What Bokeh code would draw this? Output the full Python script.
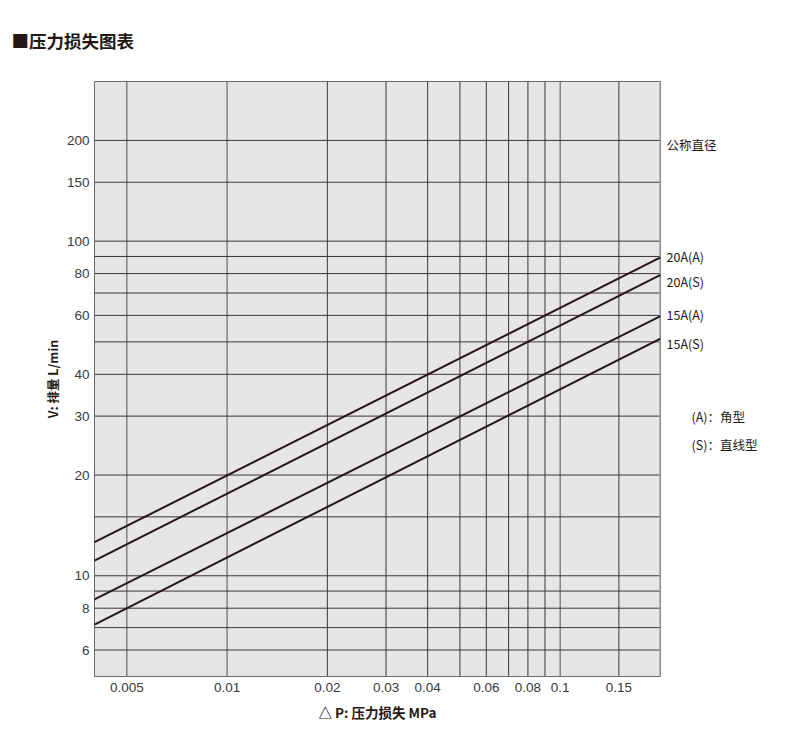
from bokeh.plotting import figure
from bokeh.models import Span, FixedTicker, CustomJSTickFormatter, LogAxis, Title
from bokeh.embed import file_html
from bokeh.resources import INLINE

# pressure loss (MPa) at the two ends of each line
dp = [0.004, 0.2]

# flow (L/min) at those two ends
flow_20A_A = [12.6, 89.5]
flow_20A_S = [11.1, 79.3]
flow_15A_A = [8.5, 59.7]
flow_15A_S = [7.15, 51.1]

series_names = ["20A(A)", "20A(S)", "15A(A)", "15A(S)"]

x_ticks = [0.005, 0.01, 0.02, 0.03, 0.04, 0.06, 0.08, 0.1, 0.15]
x_grid = [0.005, 0.01, 0.02, 0.03, 0.04, 0.05, 0.06, 0.07, 0.08, 0.09, 0.1, 0.15]
y_ticks = [6, 8, 10, 20, 30, 40, 60, 80, 100, 150, 200]
y_grid = [6, 7, 8, 9, 10, 15, 20, 30, 40, 50, 60, 70, 80, 90, 100, 150, 200]

# texts down the right side, and the height (L/min) each one sits at
side_texts = ["公称直径"] + series_names + ["\u3000\u3000(A)：角型", "\u3000\u3000(S)：直线型"]
side_at = [195, 89.8, 75.6, 60.5, 49.6, 30, 24.7]

INK = "#231815"
CJK = "Noto Sans CJK SC"

p = figure(width=780, height=740, x_axis_type="log", y_axis_type="log",
           x_range=(0.004, 0.2), y_range=(5, 300),
           output_backend="svg", toolbar_location=None,
           min_border_left=94, min_border_right=120,
           min_border_top=81, min_border_bottom=64)

p.background_fill_color = "#e6e6e6"
p.border_fill_color = "white"
p.outline_line_color = "#6a6a6a"
p.outline_line_width = 1
p.grid.visible = False

# grid lines
light_x = {0.005, 0.01, 0.1}
for v in x_grid:
    p.add_layout(Span(location=v, dimension="height", level="underlay",
                      line_color="#7a7a7a" if v in light_x else "#3d3535",
                      line_width=1.4 if v in light_x else 1))
for v in y_grid:
    p.add_layout(Span(location=v, dimension="width", level="underlay",
                      line_color="#3d3535", line_width=1))
# right border is a lighter, thicker line
p.add_layout(Span(location=0.2, dimension="height", level="underlay",
                  line_color="#a8a8a8", line_width=2.5))

fmt = CustomJSTickFormatter(code="return tick.toString();")
p.xaxis.ticker = FixedTicker(ticks=x_ticks, minor_ticks=[])
p.yaxis.ticker = FixedTicker(ticks=y_ticks, minor_ticks=[])
p.xaxis.formatter = fmt
p.yaxis.formatter = fmt

for ax in (p.xaxis, p.yaxis):
    ax.axis_line_color = None
    ax.major_tick_line_color = None
    ax.minor_tick_line_color = None
    ax.major_tick_out = 0
    ax.major_tick_in = 0
    ax.major_label_text_font = "Liberation Sans"
    ax.major_label_text_font_size = "13.5px"
    ax.major_label_text_color = "#3a3a3a"
    ax.axis_label_text_font = CJK
    ax.axis_label_text_font_style = "bold"
    ax.axis_label_text_color = INK

p.xaxis.major_label_standoff = 6
p.xaxis.axis_label_standoff = 7
p.xaxis.axis_label_text_font_size = "13.5px"
p.yaxis.major_label_standoff = 5
p.yaxis.axis_label_standoff = 2
p.yaxis.axis_label_text_font_size = "12.5px"
p.xaxis.axis_label = "△ P: 压力损失 MPa"
p.yaxis.axis_label = "V: 排量 L/min"

# the four curves
for ys in (flow_20A_A, flow_20A_S, flow_15A_A, flow_15A_S):
    p.line(dp, ys, line_color=INK, line_width=2)

# names down the right side, as tick labels of a bare right axis
side = LogAxis(ticker=FixedTicker(ticks=side_at, minor_ticks=[]),
               major_label_overrides=dict(zip(side_at, side_texts)),
               axis_line_color=None, major_tick_line_color=None,
               minor_tick_line_color=None, major_tick_out=0, major_tick_in=0,
               major_label_standoff=6, major_label_text_font=CJK,
               major_label_text_font_size="12.5px", major_label_text_color=INK)
p.add_layout(side, "right")

# page heading, hung from the top of its panel
p.add_layout(Title(text="■压力损失图表", align="left", offset=-83, standoff=54,
                   vertical_align="top",
                   text_font=CJK, text_font_style="bold",
                   text_font_size="17.5px", text_color=INK), "above")

open("out.html", "w").write(file_html(p, INLINE))
